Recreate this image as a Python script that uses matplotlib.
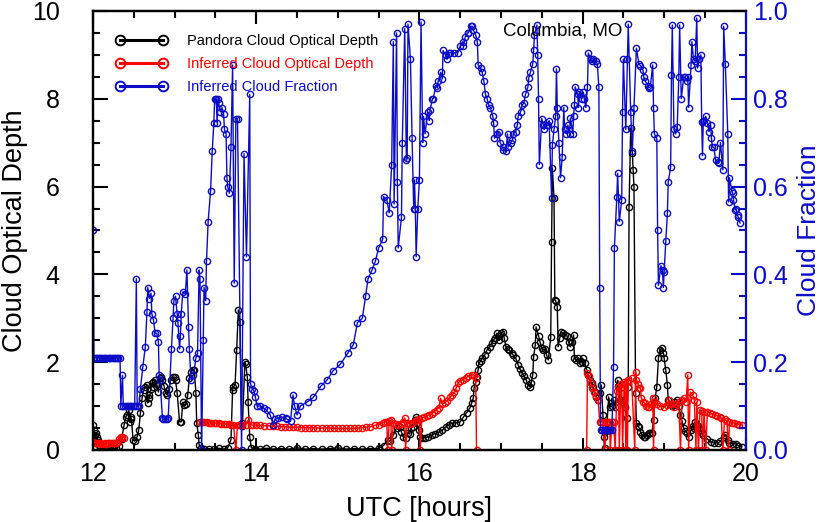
import numpy as np
import matplotlib
matplotlib.use("Agg")
import matplotlib.pyplot as plt
from matplotlib.lines import Line2D
from matplotlib.ticker import MultipleLocator

plt.rcParams['font.family'] = ['Liberation Sans', 'DejaVu Sans']

nan = np.nan
BLUE = '#0c0cc8'

## Pandora cloud optical depth (left axis)
pandora_t = [
    12.00, 12.01, 12.02, 12.03, 12.04, 12.05, 12.06, 12.07, 12.09, 12.12, 12.16, 12.20, 12.24,
    12.28, 12.32, 12.35, 12.38, 12.40, 12.42, 12.44, 12.45, 12.46, 12.47, 12.49, 12.51, 12.54,
    12.56, 12.58, 12.60, 12.62, 12.64, 12.66, 12.67, 12.68, 12.69, 12.71, 12.72, 12.73, 12.74,
    12.76, 12.78, 12.80, 12.82, 12.83, 12.85, 12.87, 12.89, 12.91, 12.93, 12.95, 12.98, 13.00,
    13.01, 13.03, 13.06, 13.08, 13.10, 13.12, 13.14, 13.16, 13.18, 13.20, 13.22, 13.24, 13.26,
    13.27, 13.29, 13.30, 13.32, 13.36, 13.42, 13.48, 13.54, 13.60, 13.65, 13.69, 13.71, 13.72,
    13.74, 13.76, 13.78, 13.80, 13.82, 13.83, 13.86, 13.87, 13.89, 13.90, 13.92, 13.94, 13.98,
    14.05, 14.12, 14.20, 14.30, 14.40, 14.50, 14.60, 14.70, 14.80, 14.90, 15.00, 15.10, 15.20,
    15.30, 15.40, 15.50, 15.56, 15.61, 15.64, 15.68, 15.72, 15.74, 15.76, 15.78, 15.80, 15.83,
    15.86, 15.88, 15.90, 15.92, 15.94, 15.96, 15.97, 15.99, 16.01, 16.03, 16.07, 16.11, 16.15,
    16.19, 16.24, 16.28, 16.32, 16.36, 16.40, 16.45, 16.50, 16.54, 16.58, 16.62, 16.64, 16.66,
    16.67, 16.69, 16.70, 16.72, 16.73, 16.75, 16.77, 16.80, 16.83, 16.86, 16.89, 16.91, 16.93,
    16.95, 16.97, 16.98, 17.00, 17.02, 17.04, 17.06, 17.08, 17.10, 17.13, 17.15, 17.18, 17.21,
    17.23, 17.26, 17.28, 17.31, 17.33, 17.35, 17.37, 17.39, 17.40, 17.42, 17.43, 17.46, 17.48,
    17.50, 17.52, 17.54, 17.56, 17.58, 17.61, 17.62, 17.63, 17.65, 17.66, 17.67, 17.69, 17.70,
    17.72, 17.74, 17.76, 17.79, 17.81, 17.83, 17.85, 17.87, 17.89, 17.90, 17.92, 17.94, 17.97,
    17.99, 18.00, 18.03, 18.05, 18.07, 18.09, 18.11, 18.13, 18.15, 18.17, 18.19, 18.21, 18.23,
    18.25, 18.26, 18.27, 18.28, 18.30, 18.32, 18.34, 18.36, 18.38, 18.40, 18.43, 18.44, 18.46,
    18.48, 18.50, 18.52, 18.54, 18.56, 18.57, 18.59, 18.61, 18.62, 18.63, 18.65, 18.66, 18.68,
    18.69, 18.71, 18.73, 18.75, 18.77, 18.79, 18.81, 18.83, 18.85, 18.87, 18.89, 18.91, 18.93,
    18.95, 18.97, 18.99, 19.00, 19.02, 19.04, 19.05, 19.08, 19.10, 19.12, 19.14, 19.16, 19.18,
    19.20, 19.22, 19.24, 19.26, 19.28, 19.30, 19.33, 19.35, 19.36, 19.38, 19.40, 19.42, 19.45,
    19.47, 19.48, 19.53, 19.57, 19.61, 19.66, 19.69, 19.73, 19.75, 19.78, 19.79, 19.84, 19.88,
    19.91, 19.95,
]
pandora_cod = [
    0.57, 0.45, 0.34, 0.18, 0.39, 0.30, 0.23, 0.11, 0.05, 0.03, 0.02, 0.03, 0.02,
    0.04, 0.08, 0.25, 0.57, 0.75, 0.80, 0.90, 0.64, 0.75, 0.70, 0.23, 0.20, 0.30,
    0.46, 0.84, 1.18, 1.37, 1.44, 1.48, 1.07, 1.25, 1.18, 1.40, 1.52, 1.55, 1.44,
    1.59, 1.50, 1.32, 1.64, 1.66, 1.59, 1.45, 1.30, 1.25, 1.40, 1.59, 1.66, 1.66,
    1.59, 1.30, 0.64, 0.64, 1.09, 1.02, 1.05, 1.25, 1.64, 1.78, 1.82, 1.82, 1.30,
    0.61, 0.34, 0.11, 0.05, 0.02, 0.03, 0.02, 0.04, 0.02, 0.05, 0.23, 1.37, 1.44,
    1.48, 2.28, 3.19, 2.92, 0.61, 0.55, 2.00, 1.95, 1.66, 1.10, 0.30, 0.05, 0.03,
    0.02, 0.04, 0.02, 0.03, 0.02, 0.05, 0.02, 0.03, 0.02, 0.03, 0.05, 0.02, 0.03,
    0.02, 0.03, 0.04, 0.10, 0.23, 0.20, 0.34, 0.50, 0.57, 0.52, 0.41, 0.30, 0.28,
    0.39, 0.36, 0.50, 0.52, 0.68, 0.75, 0.62, 0.45, 0.30, 0.28, 0.28, 0.30, 0.34,
    0.37, 0.41, 0.45, 0.52, 0.57, 0.61, 0.62, 0.64, 0.75, 0.85, 0.96, 1.07, 1.18,
    1.41, 1.55, 1.66, 1.82, 1.98, 2.02, 2.09, 2.16, 2.28, 2.35, 2.44, 2.50, 2.55,
    2.66, 2.60, 2.50, 2.66, 2.69, 2.55, 2.35, 2.30, 2.28, 2.21, 2.16, 2.09, 1.94,
    1.85, 1.75, 1.68, 1.59, 1.48, 1.44, 1.52, 1.71, 2.12, 2.39, 2.80, 2.60, 2.45,
    2.32, 2.28, 2.30, 2.16, 2.05, 2.57, 4.74, 6.42, 5.74, 3.42, 3.40, 3.26, 2.35,
    2.55, 2.69, 2.66, 2.62, 2.60, 2.45, 2.35, 2.45, 2.62, 2.09, 2.05, 2.09, 1.98,
    2.00, 2.09, 1.98, 1.82, 1.71, 1.59, 1.52, 1.44, 1.32, 1.21, 1.14, 1.30, 1.48,
    0.80, 0.30, 0.05, 0.41, 0.61, 1.21, 0.98, 1.00, 1.14, 0.98, 1.59, 1.45, 1.14,
    1.10, 1.14, 0.98, 0.73, 1.44, 5.54, 7.33, 6.77, 6.38, 5.99, 1.30, 0.61, 0.55,
    0.52, 0.41, 0.34, 0.30, 0.30, 0.34, 0.39, 0.39, 0.39, 0.68, 1.18, 1.44, 2.09,
    2.28, 2.32, 2.21, 2.09, 1.82, 1.48, 1.14, 1.03, 1.00, 1.09, 1.05, 1.14, 1.00,
    0.80, 0.65, 0.50, 0.43, 0.39, 0.30, 0.46, 0.55, 0.50, 0.64, 0.52, 0.55, 0.46,
    0.38, 0.34, 0.25, 0.18, 0.16, 0.16, 0.20, 0.30, 0.34, 0.22, 0.16, 0.14, 0.14,
    0.10, 0.07,
]

## Inferred cloud optical depth (left axis), nan = no retrieval
inferred_t = [
    12.00, 12.02, 12.04, 12.06, 12.08, 12.10, 12.12, 12.14, 12.16, 12.18, 12.20, 12.22, 12.24,
    12.26, 12.28, 12.30, 12.32, 12.34, 12.36, 12.38, 12.40,
    13.31, 13.33, 13.36, 13.39, 13.42, 13.45, 13.48, 13.51, 13.54, 13.57, 13.60, 13.63, 13.66,
    13.69, 13.72, 13.75, 13.77, 13.80, 13.83, 13.87, 13.90, 13.93, 13.96, 14.00, 14.05, 14.10,
    14.15, 14.20, 14.25, 14.30, 14.35, 14.40, 14.45, 14.50, 14.55, 14.60, 14.65, 14.70, 14.75,
    14.80, 14.85, 14.90, 14.95, 15.00, 15.05, 15.10, 15.15, 15.20, 15.25, 15.30, 15.35, 15.40,
    15.45, 15.50, 15.55, 15.58, 15.60, 15.61, 15.63, 15.65, 15.66, 15.68, 15.71, 15.74, 15.77,
    15.80, 15.82, 15.83, 15.85, 15.88, 15.91, 15.94, 15.97, 16.00, 16.01, 16.03, 16.06, 16.09,
    16.12, 16.15, 16.18, 16.21, 16.24, 16.26, 16.28, 16.31, 16.34, 16.37, 16.40, 16.43, 16.45,
    16.47, 16.50, 16.53, 16.57, 16.60, 16.64, 16.67, 16.69, 16.70, 16.72,
    18.05, 18.06, 18.08, 18.10, 18.12, 18.14, 18.16, 18.19, 18.21, 18.23, 18.25, 18.27, 18.29,
    18.31, 18.33, 18.34, 18.36, 18.38, 18.40, 18.42, 18.44, 18.45, 18.47, 18.48, 18.49, 18.51,
    18.52, 18.53, 18.54, 18.55, 18.56, 18.60, 18.64, 18.65, 18.66, 18.68, 18.69, 18.71, 18.72,
    18.74, 18.76, 18.78, 18.80, 18.82, 18.84, 18.86, 18.87, 18.88, 18.91, 18.95, 19.00, 19.03,
    19.06, 19.09, 19.12, 19.15, 19.18, 19.20, 19.22, 19.24, 19.27, 19.29, 19.30, 19.32, 19.35,
    19.37, 19.39, 19.40, 19.42, 19.44, 19.46, 19.47, 19.49, 19.51, 19.53, 19.56, 19.59, 19.62,
    19.65, 19.68, 19.70, 19.72, 19.74, 19.77, 19.79, 19.80, 19.83, 19.86, 19.89, 19.92, 19.95,
]
inferred_cod = [
    0.18, 0.16, 0.16, 0.15, 0.15, 0.14, 0.14, 0.15, 0.14, 0.15, 0.16, 0.16, 0.15,
    0.16, 0.17, 0.18, 0.25, 0.30, 0.30, 0.28, nan,
    0.64, 0.64, 0.63, 0.63, 0.62, 0.62, 0.62, 0.61, 0.61, 0.60, 0.60, 0.59, 0.59,
    0.58, 0.58, 0.00, 0.58, 0.58, 0.57, 0.57, 0.68, 0.57, 0.57, 0.57, 0.56, 0.55,
    0.55, 0.54, 0.54, 0.53, 0.53, 0.52, 0.52, 0.52, 0.51, 0.51, 0.51, 0.50, 0.50,
    0.50, 0.50, 0.50, 0.49, 0.49, 0.49, 0.49, 0.49, 0.49, 0.50, 0.51, 0.52, 0.53,
    0.56, 0.58, 0.62, 0.64, 0.64, 0.00, 0.66, 0.68, 0.00, 0.62, 0.60, 0.58, 0.60,
    0.64, 0.73, 0.00, 0.62, 0.60, 0.62, 0.65, 0.68, 0.70, 0.00, 0.73, 0.75, 0.78,
    0.80, 0.83, 0.87, 0.92, 0.96, 1.18, 1.05, 1.07, 1.12, 1.20, 1.25, 1.32, 1.41,
    1.52, 1.57, 1.60, 1.64, 1.68, 1.71, 1.71, 1.65, 0.00, nan,
    0.00, 1.75, 1.68, 1.52, 1.41, 1.32, 1.22, 1.14, 0.64, 0.64, 0.64, 0.00, 0.64,
    0.64, 0.64, 0.00, 0.64, 0.64, 0.00, 1.35, 1.44, 0.00, 1.50, 1.44, 0.00, 1.55,
    1.50, 0.00, 1.55, 0.00, 1.60, 1.65, 0.00, 1.78, 1.60, 1.50, 1.41, 1.42, 1.18,
    1.10, 1.07, 1.00, 0.98, 0.98, 1.05, 1.18, 0.00, 1.10, 1.05, 1.00, 0.98, 1.02,
    1.14, 1.05, 0.98, 1.05, 1.10, 0.00, 1.14, 1.18, 1.10, 1.71, 0.00, 1.32, 1.25,
    1.14, 0.00, 1.09, 0.00, 0.91, 0.88, 0.00, 0.87, 0.00, 0.87, 0.84, 0.82, 0.80,
    0.78, 0.75, 0.73, 0.00, 0.70, 0.66, 0.00, 0.64, 0.62, 0.61, 0.60, 0.58, 0.57,
]

## Inferred cloud fraction (right axis)
frac_t = [
    12.00, 12.01, 12.03, 12.05, 12.07, 12.09, 12.11, 12.13, 12.15, 12.17, 12.19, 12.21, 12.23,
    12.25, 12.27, 12.29, 12.31, 12.33, 12.34, 12.36, 12.37, 12.39, 12.41, 12.43, 12.45, 12.47,
    12.49, 12.51, 12.53, 12.54, 12.56, 12.58, 12.61, 12.64, 12.66, 12.67, 12.69, 12.71, 12.72,
    12.74, 12.76, 12.78, 12.80, 12.81, 12.82, 12.85, 12.86, 12.88, 12.91, 12.92, 12.96, 12.98,
    12.99, 13.01, 13.03, 13.04, 13.06, 13.07, 13.08, 13.10, 13.13, 13.15, 13.17, 13.18, 13.20,
    13.23, 13.26, 13.28, 13.30, 13.31, 13.33, 13.35, 13.36, 13.38, 13.39, 13.41, 13.44, 13.46,
    13.48, 13.49, 13.51, 13.52, 13.53, 13.54, 13.56, 13.58, 13.60, 13.61, 13.63, 13.64, 13.65,
    13.67, 13.69, 13.71, 13.73, 13.75, 13.77, 13.82, 13.85, 13.88, 13.92, 13.93, 13.95, 13.97,
    13.99, 14.01, 14.05, 14.09, 14.13, 14.17, 14.21, 14.23, 14.27, 14.32, 14.36, 14.38, 14.42,
    14.45, 14.47, 14.50, 14.54, 14.63, 14.70, 14.79, 14.87, 14.94, 15.03, 15.12, 15.19, 15.24,
    15.30, 15.34, 15.37, 15.42, 15.46, 15.50, 15.55, 15.56, 15.60, 15.63, 15.66, 15.68, 15.69,
    15.72, 15.73, 15.74, 15.78, 15.79, 15.82, 15.84, 15.85, 15.86, 15.89, 15.91, 15.93, 15.94,
    15.95, 15.96, 15.98, 16.00, 16.02, 16.04, 16.05, 16.07, 16.10, 16.12, 16.13, 16.16, 16.17,
    16.20, 16.22, 16.23, 16.26, 16.28, 16.29, 16.32, 16.34, 16.36, 16.38, 16.42, 16.47, 16.50,
    16.53, 16.54, 16.56, 16.59, 16.60, 16.63, 16.65, 16.66, 16.69, 16.71, 16.72, 16.75, 16.77,
    16.79, 16.81, 16.83, 16.85, 16.87, 16.90, 16.91, 16.92, 16.95, 16.97, 16.99, 17.02, 17.03,
    17.06, 17.08, 17.09, 17.12, 17.14, 17.15, 17.18, 17.20, 17.21, 17.24, 17.26, 17.28, 17.30,
    17.33, 17.34, 17.36, 17.39, 17.40, 17.41, 17.44, 17.45, 17.46, 17.47, 17.50, 17.52, 17.53,
    17.57, 17.58, 17.59, 17.62, 17.63, 17.65, 17.67, 17.68, 17.69, 17.71, 17.73, 17.75, 17.77,
    17.78, 17.80, 17.82, 17.84, 17.85, 17.88, 17.89, 17.90, 17.91, 17.94, 17.95, 17.96, 17.99,
    18.01, 18.02, 18.04, 18.06, 18.07, 18.10, 18.12, 18.13, 18.16, 18.18, 18.20, 18.21, 18.22,
    18.24, 18.26, 18.28, 18.30, 18.32, 18.34, 18.36, 18.38, 18.39, 18.42, 18.43, 18.45, 18.48,
    18.49, 18.50, 18.53, 18.55, 18.56, 18.59, 18.61, 18.63, 18.66, 18.69, 18.71, 18.74, 18.75,
    18.77, 18.80, 18.81, 18.83, 18.86, 18.87, 18.88, 18.91, 18.92, 18.93, 18.96, 18.98, 18.99,
    19.00, 19.02, 19.04, 19.05, 19.08, 19.09, 19.10, 19.12, 19.14, 19.16, 19.18, 19.19, 19.21,
    19.24, 19.25, 19.28, 19.29, 19.30, 19.33, 19.34, 19.36, 19.38, 19.40, 19.41, 19.43, 19.45,
    19.46, 19.47, 19.48, 19.51, 19.53, 19.55, 19.57, 19.58, 19.59, 19.61, 19.63, 19.66, 19.67,
    19.69, 19.72, 19.73, 19.75, 19.78, 19.79, 19.80, 19.83, 19.84, 19.85, 19.87, 19.88, 19.90,
    19.91, 19.93,
]
frac_cf = [
    0.50, 0.21, 0.21, 0.21, 0.21, 0.21, 0.21, 0.21, 0.21, 0.21, 0.21, 0.21, 0.21,
    0.21, 0.21, 0.21, 0.21, 0.21, 0.10, 0.17, 0.10, 0.10, 0.10, 0.10, 0.10, 0.10,
    0.10, 0.10, 0.39, 0.10, 0.10, 0.14, 0.19, 0.235, 0.315, 0.37, 0.345, 0.357, 0.31,
    0.296, 0.266, 0.266, 0.246, 0.17, 0.16, 0.072, 0.07, 0.07, 0.07, 0.072, 0.23, 0.30,
    0.34, 0.35, 0.31, 0.29, 0.23, 0.26, 0.31, 0.36, 0.355, 0.41, 0.28, 0.23, 0.16,
    0.17, 0.21, 0.22, 0.41, 0.39, 0.0, 0.25, 0.37, 0.34, 0.43, 0.52, 0.59, 0.68,
    0.745, 0.80, 0.80, 0.745, 0.80, 0.79, 0.77, 0.78, 0.765, 0.73, 0.72, 0.62, 0.60,
    0.585, 0.69, 0.877, 0.38, 0.755, 0.755, 0.0, 0.675, 0.44, 0.81, 0.15, 0.14, 0.135,
    0.12, 0.10, 0.10, 0.095, 0.09, 0.08, 0.057, 0.07, 0.072, 0.075, 0.072, 0.07, 0.065,
    0.125, 0.10, 0.08, 0.10, 0.11, 0.12, 0.145, 0.16, 0.18, 0.195, 0.22, 0.24, 0.29,
    0.30, 0.35, 0.39, 0.41, 0.43, 0.46, 0.48, 0.577, 0.57, 0.54, 0.65, 0.93, 0.56,
    0.95, 0.61, 0.46, 0.53, 0.70, 0.96, 0.66, 0.665, 0.97, 0.89, 0.71, 0.55, 0.615,
    0.55, 0.44, 0.55, 0.615, 0.975, 0.70, 0.76, 0.72, 0.77, 0.75, 0.775, 0.80, 0.80,
    0.83, 0.825, 0.84, 0.86, 0.845, 0.91, 0.90, 0.89, 0.905, 0.905, 0.905, 0.905, 0.92,
    0.93, 0.92, 0.94, 0.95, 0.95, 0.965, 0.965, 0.957, 0.945, 0.93, 0.877, 0.87, 0.86,
    0.84, 0.81, 0.80, 0.785, 0.78, 0.76, 0.745, 0.71, 0.72, 0.725, 0.70, 0.69, 0.683,
    0.68, 0.72, 0.69, 0.70, 0.705, 0.72, 0.725, 0.74, 0.76, 0.77, 0.786, 0.79, 0.81,
    0.827, 0.847, 0.86, 0.88, 0.91, 0.945, 0.968, 0.90, 0.80, 0.65, 0.755, 0.74, 0.73,
    0.74, 0.74, 0.75, 0.575, 0.695, 0.73, 0.76, 0.868, 0.78, 0.70, 0.62, 0.667, 0.78,
    0.73, 0.72, 0.74, 0.72, 0.756, 0.72, 0.76, 0.786, 0.827, 0.81, 0.78, 0.815, 0.80,
    0.815, 0.80, 0.78, 0.827, 0.904, 0.89, 0.885, 0.89, 0.885, 0.88, 0.827, 0.37, 0.045,
    0.045, 0.045, 0.045, 0.045, 0.045, 0.045, 0.045, 0.19, 0.46, 0.577, 0.63, 0.52, 0.57,
    0.77, 0.89, 0.73, 0.89, 0.97, 0.77, 0.68, 0.78, 0.915, 0.88, 0.875, 0.866, 0.85,
    0.84, 0.83, 0.825, 0.827, 0.877, 0.78, 0.72, 0.71, 0.50, 0.375, 0.42, 0.41, 0.37,
    0.405, 0.475, 0.54, 0.61, 0.645, 0.855, 0.968, 0.73, 0.72, 0.735, 0.85, 0.968, 0.80,
    0.85, 0.85, 0.84, 0.85, 0.78, 0.877, 0.93, 0.89, 0.885, 0.984, 0.87, 0.89, 0.90,
    0.747, 0.67, 0.75, 0.76, 0.745, 0.725, 0.74, 0.71, 0.69, 0.69, 0.66, 0.655, 0.653,
    0.70, 0.638, 0.965, 0.88, 0.72, 0.565, 0.62, 0.59, 0.585, 0.57, 0.547, 0.55, 0.535,
    0.53, 0.517,
]

xticks = [12, 14, 16, 18, 20]

fig = plt.figure(figsize=(8.24, 5.22), dpi=100)
ax = fig.add_axes([0.113, 0.138, 0.792, 0.841])
ax2 = ax.twinx()

mk = dict(marker='o', fillstyle='none', markersize=4.5, markeredgewidth=1.0, linewidth=1.0)
ax.plot(pandora_t, pandora_cod, color='black', **mk)
ax.plot(inferred_t, inferred_cod, color='red', **mk)
ax2.plot(frac_t, frac_cf, color=BLUE, **mk)

ax.set_xlim(12, 20)
ax.set_ylim(0, 10)
ax2.set_ylim(0, 1.0)

ax.set_xticks(xticks)
ax.xaxis.set_minor_locator(MultipleLocator(0.5))
ax.yaxis.set_major_locator(MultipleLocator(2))
ax.yaxis.set_minor_locator(MultipleLocator(0.5))
ax2.yaxis.set_major_locator(MultipleLocator(0.2))
ax2.yaxis.set_minor_locator(MultipleLocator(0.05))
ax2.yaxis.set_major_formatter(matplotlib.ticker.FormatStrFormatter('%.1f'))

ax.tick_params(axis='x', which='both', direction='in', top=True, width=1.5, labelsize=18, pad=9)
ax.tick_params(axis='x', which='major', length=9)
ax.tick_params(axis='x', which='minor', length=5)
ax.tick_params(axis='y', which='both', direction='in', right=False, width=1.5, labelsize=18, pad=24)
ax.tick_params(axis='y', which='major', length=11)
ax.tick_params(axis='y', which='minor', length=5)
ax2.tick_params(axis='y', which='both', direction='in', colors=BLUE, width=1.5, labelsize=18, pad=5)
ax2.tick_params(axis='y', which='major', length=11)
ax2.tick_params(axis='y', which='minor', length=5)

for s in ['left', 'top', 'bottom']:
    ax.spines[s].set_linewidth(1.6)
    ax2.spines[s].set_linewidth(1.6)
ax2.spines['right'].set_color(BLUE)
ax2.spines['right'].set_linewidth(1.6)
ax.spines['right'].set_visible(False)

ax.set_xlabel('UTC [hours]', fontsize=19.5)
ax.set_ylabel('Cloud Optical Depth', fontsize=19.5)
ax2.set_ylabel('Cloud Fraction', fontsize=19, color=BLUE, rotation=90)
ax.xaxis.set_label_coords(0.5, -0.105)
ax.yaxis.set_label_coords(-0.100, 0.5)
ax2.yaxis.set_label_coords(1.078, 0.5)

ax2.text(0.72, 0.955, 'Columbia, MO', transform=ax2.transAxes, fontsize=13.5,
         ha='center', va='center')

hkw = dict(marker='o', fillstyle='none', markersize=7, markeredgewidth=1.4, linewidth=2.2)
handles = [Line2D([], [], color='black', **hkw),
           Line2D([], [], color='red', **hkw),
           Line2D([], [], color=BLUE, **hkw)]
labels = ['Pandora Cloud Optical Depth', 'Inferred Cloud Optical Depth', 'Inferred Cloud Fraction']
leg = ax2.legend(handles, labels, loc='upper left', bbox_to_anchor=(0.025, 0.96),
                 frameon=False, numpoints=2, handlelength=3.6, handletextpad=1.3,
                 labelspacing=0.6, fontsize=10.5, labelcolor='linecolor', borderaxespad=0)

fig.savefig('out.png', dpi=100)
